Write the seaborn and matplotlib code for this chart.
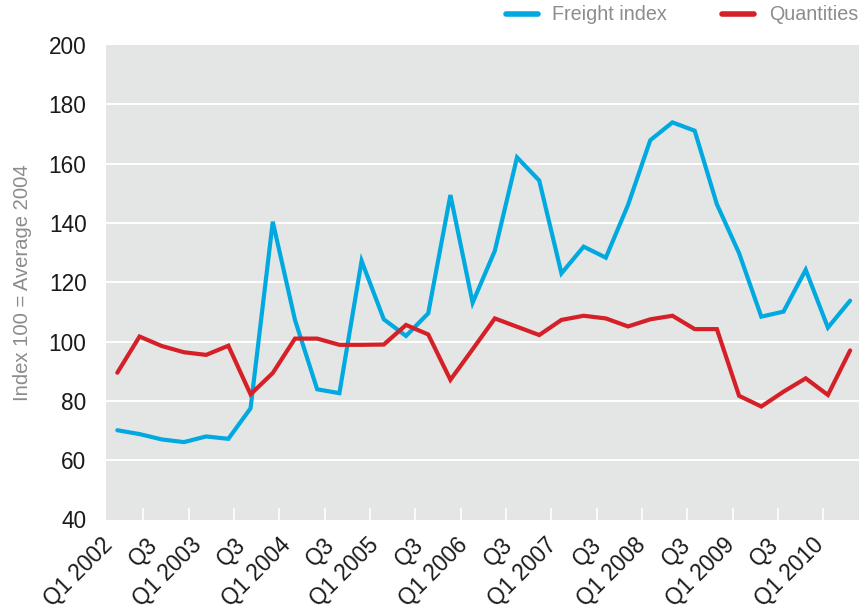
import numpy as np
import pandas as pd
import seaborn as sns
import matplotlib
matplotlib.use("Agg")
import matplotlib.pyplot as plt

# Quarterly series, Q1 2002 .. Q2 2010
quarters = [f"Q{q} {y}" for y in range(2002, 2011) for q in range(1, 5)][:34]

freight_index = [70.1, 68.8, 67.0, 66.1, 68.0, 67.2, 77.5, 140.4, 107.3, 83.9,
                 82.6, 127.2, 107.5, 101.9, 109.5, 149.4, 113.1, 130.6, 162.1, 154.3,
                 123.0, 132.0, 128.3, 146.1, 167.9, 173.9, 171.1, 146.3, 129.8, 108.4,
                 110.1, 124.2, 104.7, 113.8]

quantities = [89.5, 101.7, 98.5, 96.4, 95.5, 98.6, 82.2, 89.4, 101.0, 101.0,
              98.9, 98.9, 99.0, 105.6, 102.4, 87.1, 97.4, 107.8, 105.0, 102.2,
              107.3, 108.7, 107.8, 105.1, 107.5, 108.7, 104.2, 104.2, 81.7, 78.1,
              83.1, 87.6, 82.0, 97.0]

series_names = ["Freight index", "Quantities"]
series_colors = ["#00a9e0", "#d52027"]

tick_labels = [q if q.startswith("Q1") else q.split()[0] for q in quarters]

df = pd.DataFrame({
    "pos": list(range(len(quarters))) * 2,
    "quarter": quarters * 2,
    "value": freight_index + quantities,
    "series": [series_names[0]] * len(quarters) + [series_names[1]] * len(quarters),
})

sns.set_theme(style="white")
plt.rcParams["font.family"] = ["Liberation Sans", "DejaVu Sans"]

fig = plt.figure(figsize=(8.63, 6.14), dpi=100)
ax = fig.add_axes([106 / 863, 1 - 519.5 / 614, 753 / 863, 474.5 / 614])
ax.set_facecolor("#e4e5e5")

sns.lineplot(data=df, x="pos", y="value", hue="series", hue_order=series_names,
             palette=series_colors, linewidth=3.0, ax=ax, legend=False,
             solid_joinstyle="miter", solid_capstyle="round")

ax.set_xlim(-0.51, 33.4)
ax.set_ylim(40, 200)
ax.set_yticks(range(40, 201, 20))
for y in range(60, 200, 20):
    ax.axhline(y, color="white", linewidth=1.4, zorder=0.5)

# Category labels every half year, boundary marks as short white ticks
major = list(range(0, len(quarters), 2))
ax.set_xticks(major)
ax.set_xticklabels([tick_labels[i] for i in major], rotation=45, ha="right",
                   fontsize=16.3, color="#1a1a1a")
ax.set_xticks(np.linspace(1.17, 31.79, 16), minor=True)
ax.tick_params(axis="x", which="major", length=0, pad=10)
ax.tick_params(axis="x", which="minor", direction="in", length=9, width=1.2,
               color="white", bottom=True)
ax.tick_params(axis="y", length=0, pad=14, labelsize=16.3, labelcolor="#1a1a1a")

ax.set_xlabel("")
ax.set_ylabel("Index 100 = Average 2004", fontsize=14.6, color="#8c8c8c", labelpad=12)

for s in ax.spines.values():
    s.set_visible(False)

handles = [plt.Line2D([], [], color=c, linewidth=4, solid_capstyle="round")
           for c in series_colors]
leg = fig.legend(handles, series_names, loc="center right",
                 bbox_to_anchor=(858 / 863, 1 - 15 / 614), ncol=2, frameon=False,
                 fontsize=14.2, handlelength=1.6, handletextpad=0.75,
                 columnspacing=2.8, borderaxespad=0, borderpad=0)
for t in leg.get_texts():
    t.set_color("#8c8c8c")

fig.savefig("out.png", dpi=100)
